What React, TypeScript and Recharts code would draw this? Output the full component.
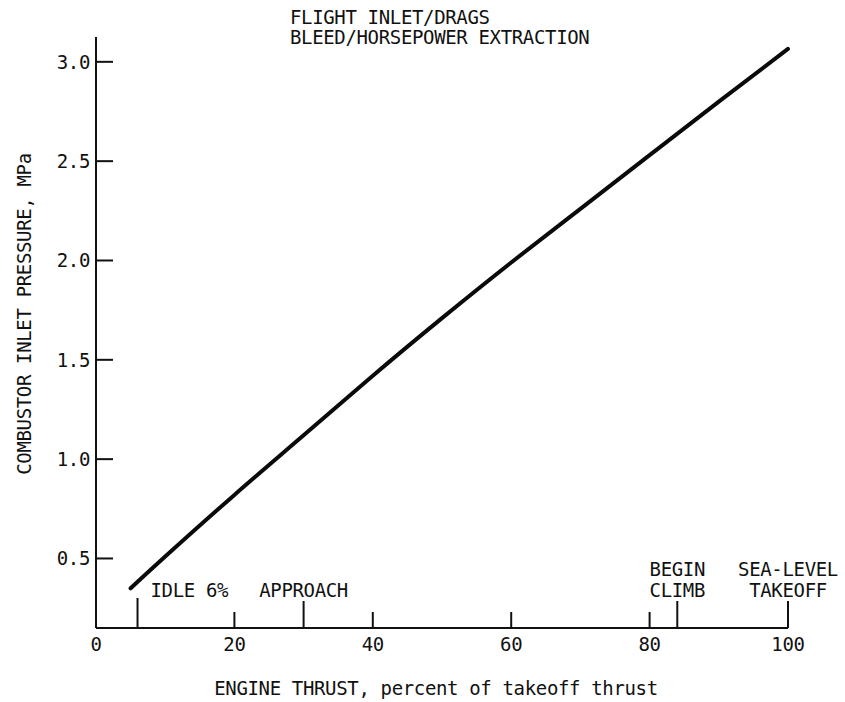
import React from 'react';
import { LineChart, Line, XAxis, YAxis, ReferenceLine } from 'recharts';

// engine thrust (% of takeoff) vs combustor inlet pressure (MPa)
const thrust = [5, 10, 20, 30, 40, 50, 60, 70, 80, 90, 100];
const pressure = [0.35, 0.51, 0.82, 1.12, 1.42, 1.71, 1.99, 2.26, 2.53, 2.8, 3.065];

const xTicks = [0, 20, 40, 60, 80, 100];
const yTicks = [0.5, 1.0, 1.5, 2.0, 2.5, 3.0];

// operating points marked along the thrust axis
const milestoneThrust = [6, 30, 84, 100];
const milestoneLabels = [['IDLE 6%'], ['APPROACH'], ['BEGIN', 'CLIMB'], ['SEA-LEVEL', 'TAKEOFF']];

const titleLines = ['FLIGHT INLET/DRAGS', 'BLEED/HORSEPOWER EXTRACTION'];
const xLabel = 'ENGINE THRUST, percent of takeoff thrust';
const yLabel = 'COMBUSTOR INLET PRESSURE, MPa';

const data = thrust.map((t, i) => ({ thrust: t, pressure: pressure[i] }));

const font = {
  fontFamily: '"DejaVu Sans Mono", monospace',
  fontSize: 19,
  letterSpacing: -0.35,
  fill: '#111',
};

const YTick = (props: any) => {
  const { x, y, payload } = props;
  return (
    <g>
      <line x1={x} y1={y} x2={x + 17} y2={y} stroke="#111" strokeWidth={2} />
      <text x={x - 6} y={y} dy="0.36em" textAnchor="end" {...font}>
        {payload.value.toFixed(1)}
      </text>
    </g>
  );
};

const XTick = (props: any) => {
  const { x, y, payload } = props;
  const v = payload.value;
  return (
    <g>
      {v > 0 && v < 100 && <line x1={x} y1={y} x2={x} y2={y - 16} stroke="#111" strokeWidth={2} />}
      <text x={x} y={y + 23} textAnchor="middle" {...font}>
        {v}
      </text>
    </g>
  );
};

const milestoneShape = (lines: string[], i: number) => (props: any) => {
  const { x1, y1, y2 } = props;
  const bottom = Math.max(y1, y2);
  const beside = i === 0; // idle label sits to the right of its tick
  const tickTop = bottom - (beside ? 30 : 27);
  return (
    <g>
      <line x1={x1} y1={bottom} x2={x1} y2={tickTop} stroke="#111" strokeWidth={2} />
      {lines.map((s, k) => (
        <text
          key={s}
          x={beside ? x1 + 13 : x1}
          y={bottom - 38 - (lines.length - 1 - k) * 21}
          dy="0.36em"
          textAnchor={beside ? 'start' : 'middle'}
          {...font}
        >
          {s}
        </text>
      ))}
    </g>
  );
};

export default function App() {
  return (
    <div style={{ position: 'absolute', left: 0, top: 0, background: '#fff' }}>
      <LineChart width={845} height={702} data={data} margin={{ top: 37, right: 57, bottom: 73, left: 95 }}>
        <XAxis
          dataKey="thrust"
          type="number"
          domain={[0, 100]}
          ticks={xTicks}
          height={1}
          tickLine={false}
          tickSize={0}
          tickMargin={0}
          tick={<XTick />}
          axisLine={{ stroke: '#111', strokeWidth: 2 }}
        />
        <YAxis
          type="number"
          domain={[0.15, 3.125]}
          ticks={yTicks}
          width={1}
          tickLine={false}
          tickSize={0}
          tickMargin={0}
          tick={<YTick />}
          axisLine={{ stroke: '#111', strokeWidth: 2 }}
        />
        {milestoneThrust.map((t, i) => (
          <ReferenceLine key={t} x={t} shape={milestoneShape(milestoneLabels[i], i)} />
        ))}
        <Line
          type="natural"
          dataKey="pressure"
          stroke="#0a0a0a"
          strokeWidth={4}
          strokeLinecap="round"
          dot={false}
          isAnimationActive={false}
        />
        {titleLines.map((s, i) => (
          <text key={s} x={290} y={17 + i * 20} dy="0.36em" {...font}>
            {s}
          </text>
        ))}
        <text x={436} y={688} dy="0.36em" textAnchor="middle" {...font}>
          {xLabel}
        </text>
        <text
          x={24}
          y={314}
          dy="0.36em"
          textAnchor="middle"
          transform="rotate(-90 24 314)"
          {...font}
        >
          {yLabel}
        </text>
      </LineChart>
    </div>
  );
}
